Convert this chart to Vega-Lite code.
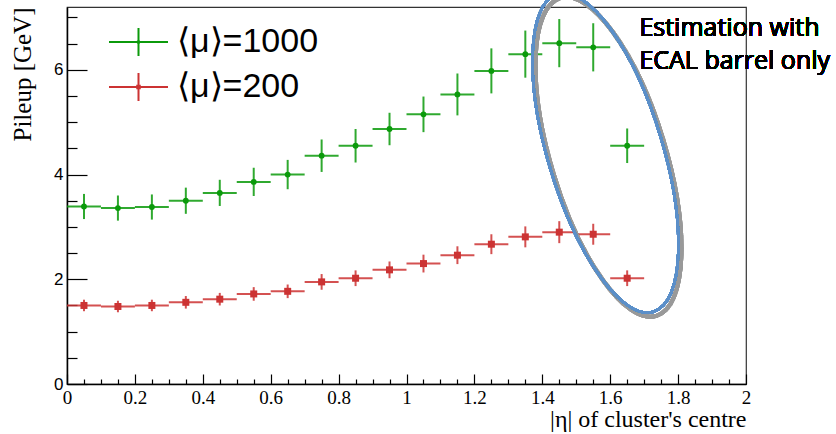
{
  "$schema": "https://vega.github.io/schema/vega-lite/v6.json",
  "autosize": {"type": "none"},
  "width": 679,
  "height": 377,
  "padding": {"left": 67, "top": 7, "right": 90, "bottom": 50},
  "background": "white",
  "config": {
    "view": {"stroke": "#333333", "strokeWidth": 1.2},
    "axis": {"grid": false, "domainColor": "black", "domainWidth": 1.5, "tickColor": "black", "tickWidth": 1.2, "labelColor": "black", "titleColor": "black"},
    "legend": {"orient": "none", "legendX": 54.5, "legendY": 18, "padding": 0, "titleFontSize": 0,
      "labelFont": "Liberation Sans", "labelFontSize": 34, "labelColor": "black", "labelOffset": 21.5, "labelLimit": 400, "rowPadding": 9,
      "symbolSize": 784, "symbolStrokeWidth": 2, "symbolOpacity": 1}
  },
  "data": {
    "values": [
      {"s": "⟨μ⟩=1000", "eta": 0.05, "lo": 0.0, "hi": 0.1, "v": 3.39, "vlo": 3.15, "vhi": 3.63},
      {"s": "⟨μ⟩=1000", "eta": 0.15, "lo": 0.1, "hi": 0.2, "v": 3.36, "vlo": 3.12, "vhi": 3.60},
      {"s": "⟨μ⟩=1000", "eta": 0.25, "lo": 0.2, "hi": 0.3, "v": 3.38, "vlo": 3.14, "vhi": 3.62},
      {"s": "⟨μ⟩=1000", "eta": 0.35, "lo": 0.3, "hi": 0.4, "v": 3.50, "vlo": 3.25, "vhi": 3.75},
      {"s": "⟨μ⟩=1000", "eta": 0.45, "lo": 0.4, "hi": 0.5, "v": 3.65, "vlo": 3.40, "vhi": 3.90},
      {"s": "⟨μ⟩=1000", "eta": 0.55, "lo": 0.5, "hi": 0.6, "v": 3.86, "vlo": 3.59, "vhi": 4.13},
      {"s": "⟨μ⟩=1000", "eta": 0.65, "lo": 0.6, "hi": 0.7, "v": 4.00, "vlo": 3.72, "vhi": 4.28},
      {"s": "⟨μ⟩=1000", "eta": 0.75, "lo": 0.7, "hi": 0.8, "v": 4.36, "vlo": 4.05, "vhi": 4.67},
      {"s": "⟨μ⟩=1000", "eta": 0.85, "lo": 0.8, "hi": 0.9, "v": 4.55, "vlo": 4.23, "vhi": 4.87},
      {"s": "⟨μ⟩=1000", "eta": 0.95, "lo": 0.9, "hi": 1.0, "v": 4.87, "vlo": 4.56, "vhi": 5.18},
      {"s": "⟨μ⟩=1000", "eta": 1.05, "lo": 1.0, "hi": 1.1, "v": 5.15, "vlo": 4.81, "vhi": 5.49},
      {"s": "⟨μ⟩=1000", "eta": 1.15, "lo": 1.1, "hi": 1.2, "v": 5.53, "vlo": 5.13, "vhi": 5.93},
      {"s": "⟨μ⟩=1000", "eta": 1.25, "lo": 1.2, "hi": 1.3, "v": 5.98, "vlo": 5.55, "vhi": 6.41},
      {"s": "⟨μ⟩=1000", "eta": 1.35, "lo": 1.3, "hi": 1.4, "v": 6.30, "vlo": 5.85, "vhi": 6.75},
      {"s": "⟨μ⟩=1000", "eta": 1.45, "lo": 1.4, "hi": 1.5, "v": 6.51, "vlo": 6.05, "vhi": 6.97},
      {"s": "⟨μ⟩=1000", "eta": 1.55, "lo": 1.5, "hi": 1.6, "v": 6.43, "vlo": 5.97, "vhi": 6.89},
      {"s": "⟨μ⟩=1000", "eta": 1.65, "lo": 1.6, "hi": 1.7, "v": 4.55, "vlo": 4.22, "vhi": 4.88},
      {"s": "⟨μ⟩=200", "eta": 0.05, "lo": 0.0, "hi": 0.1, "v": 1.50, "vlo": 1.39, "vhi": 1.61},
      {"s": "⟨μ⟩=200", "eta": 0.15, "lo": 0.1, "hi": 0.2, "v": 1.48, "vlo": 1.37, "vhi": 1.59},
      {"s": "⟨μ⟩=200", "eta": 0.25, "lo": 0.2, "hi": 0.3, "v": 1.50, "vlo": 1.39, "vhi": 1.61},
      {"s": "⟨μ⟩=200", "eta": 0.35, "lo": 0.3, "hi": 0.4, "v": 1.56, "vlo": 1.44, "vhi": 1.68},
      {"s": "⟨μ⟩=200", "eta": 0.45, "lo": 0.4, "hi": 0.5, "v": 1.62, "vlo": 1.50, "vhi": 1.74},
      {"s": "⟨μ⟩=200", "eta": 0.55, "lo": 0.5, "hi": 0.6, "v": 1.72, "vlo": 1.59, "vhi": 1.85},
      {"s": "⟨μ⟩=200", "eta": 0.65, "lo": 0.6, "hi": 0.7, "v": 1.77, "vlo": 1.64, "vhi": 1.90},
      {"s": "⟨μ⟩=200", "eta": 0.75, "lo": 0.7, "hi": 0.8, "v": 1.95, "vlo": 1.80, "vhi": 2.10},
      {"s": "⟨μ⟩=200", "eta": 0.85, "lo": 0.8, "hi": 0.9, "v": 2.02, "vlo": 1.87, "vhi": 2.17},
      {"s": "⟨μ⟩=200", "eta": 0.95, "lo": 0.9, "hi": 1.0, "v": 2.18, "vlo": 2.02, "vhi": 2.34},
      {"s": "⟨μ⟩=200", "eta": 1.05, "lo": 1.0, "hi": 1.1, "v": 2.30, "vlo": 2.13, "vhi": 2.47},
      {"s": "⟨μ⟩=200", "eta": 1.15, "lo": 1.1, "hi": 1.2, "v": 2.46, "vlo": 2.29, "vhi": 2.63},
      {"s": "⟨μ⟩=200", "eta": 1.25, "lo": 1.2, "hi": 1.3, "v": 2.67, "vlo": 2.48, "vhi": 2.86},
      {"s": "⟨μ⟩=200", "eta": 1.35, "lo": 1.3, "hi": 1.4, "v": 2.81, "vlo": 2.61, "vhi": 3.01},
      {"s": "⟨μ⟩=200", "eta": 1.45, "lo": 1.4, "hi": 1.5, "v": 2.90, "vlo": 2.69, "vhi": 3.11},
      {"s": "⟨μ⟩=200", "eta": 1.55, "lo": 1.5, "hi": 1.6, "v": 2.86, "vlo": 2.66, "vhi": 3.06},
      {"s": "⟨μ⟩=200", "eta": 1.65, "lo": 1.6, "hi": 1.7, "v": 2.02, "vlo": 1.87, "vhi": 2.17}
    ]
  },
  "resolve": {"axis": {"x": "independent", "y": "independent"}},
  "layer": [
    {
      "mark": {"type": "rule", "strokeWidth": 2, "opacity": 0.85},
      "encoding": {
        "x": {"field": "lo", "type": "quantitative", "scale": {"domain": [0, 2], "nice": false, "zero": false},
          "axis": {"orient": "bottom", "values": [0, 0.2, 0.4, 0.6, 0.8, 1, 1.2, 1.4, 1.6, 1.8, 2], "format": "~g", "tickSize": -10, "labelPadding": 14,
            "labelFont": "Liberation Serif", "labelFontSize": 19, "labelFlush": false, "labelOverlap": false,
            "title": "|η| of cluster's centre", "titleFont": "Liberation Serif", "titleFontSize": 24, "titleFontWeight": "normal",
            "titleAnchor": "end", "titleAlign": "right", "titleX": 679, "titleY": 42, "titleBaseline": "alphabetic"}},
        "x2": {"field": "hi"},
        "y": {"field": "v", "type": "quantitative", "scale": {"domain": [0, 7.2], "nice": false, "zero": true},
          "axis": {"orient": "left", "values": [0, 2, 4, 6], "tickSize": -20, "labelPadding": 24,
            "labelFont": "Liberation Sans", "labelFontSize": 17, "labelFlush": false, "labelOverlap": false,
            "title": "Pileup [GeV]", "titleFont": "Liberation Serif", "titleFontSize": 25, "titleFontWeight": "normal",
            "titleAnchor": "end", "titleAlign": "right", "titleAngle": -90, "titleX": -37, "titleY": 0, "titleBaseline": "alphabetic"}},
        "color": {"field": "s", "type": "nominal", "scale": {"domain": ["⟨μ⟩=1000", "⟨μ⟩=200"], "range": ["#0b9a0b", "#cc3333"]}}
      }
    },
    {
      "mark": {"type": "rule", "strokeWidth": 2, "opacity": 0.85},
      "encoding": {
        "x": {"field": "eta", "type": "quantitative",
          "axis": {"orient": "bottom", "values": [0.05, 0.1, 0.15, 0.25, 0.3, 0.35, 0.45, 0.5, 0.55, 0.65, 0.7, 0.75, 0.85, 0.9, 0.95, 1.05, 1.1, 1.15, 1.25, 1.3, 1.35, 1.45, 1.5, 1.55, 1.65, 1.7, 1.75, 1.85, 1.9, 1.95], "tickSize": -5, "labels": false, "domain": false, "title": null}},
        "y": {"field": "vlo", "type": "quantitative",
          "axis": {"orient": "left", "values": [0.5, 1, 1.5, 2.5, 3, 3.5, 4.5, 5, 5.5, 6.5, 7], "tickSize": -10, "labels": false, "domain": false, "title": null}},
        "y2": {"field": "vhi"},
        "color": {"field": "s", "type": "nominal"}
      }
    },
    {
      "mark": {"type": "point", "filled": true, "opacity": 1},
      "encoding": {
        "x": {"field": "eta", "type": "quantitative", "axis": null},
        "y": {"field": "v", "type": "quantitative", "axis": null},
        "color": {"field": "s", "type": "nominal"},
        "shape": {"condition": {"test": "datum.s === '⟨μ⟩=200'", "value": "square"}, "value": "circle"},
        "size": {"condition": {"test": "datum.s === '⟨μ⟩=200'", "value": 49}, "value": 34}
      }
    },
    {
      "mark": {"type": "point", "filled": false, "opacity": 1, "strokeWidth": 2},
      "encoding": {
        "x": {"field": "eta", "type": "quantitative", "axis": null},
        "y": {"field": "v", "type": "quantitative", "axis": null},
        "color": {"field": "s", "type": "nominal", "legend": {"title": null}},
        "shape": {"field": "s", "type": "nominal", "legend": {"title": null},
          "scale": {"domain": ["⟨μ⟩=1000", "⟨μ⟩=200"], "range": ["M-2.107,0H2.107M0,-1V1M-0.07,0A0.07,0.07,0,1,1,0.07,0A0.07,0.07,0,1,1,-0.07,0Z", "M-2.107,0H2.107M0,-1V1M-0.09,-0.09H0.09V0.09H-0.09Z"]}},
        "size": {"value": 0}
      }
    },
    {
      "mark": {"type": "point", "shape": "M0,-1A0.346,1,0,1,1,0,1A0.346,1,0,1,1,0,-1Z", "angle": 343.2, "size": 110224, "filled": false, "stroke": "#999999", "strokeWidth": 4, "opacity": 0.15, "xOffset": 3, "yOffset": 4},
      "encoding": {
        "x": {"datum": 1.586, "type": "quantitative", "axis": null},
        "y": {"datum": 4.414, "type": "quantitative", "axis": null}
      }
    },
    {
      "mark": {"type": "point", "shape": "M0,-1A0.346,1,0,1,1,0,1A0.346,1,0,1,1,0,-1Z", "angle": 343.2, "size": 110224, "filled": false, "stroke": "#5b8fc9", "strokeWidth": 2.5, "opacity": 1},
      "encoding": {
        "x": {"datum": 1.586, "type": "quantitative", "axis": null},
        "y": {"datum": 4.414, "type": "quantitative", "axis": null}
      }
    },
    {
      "mark": {"type": "text", "text": ["Estimation with", "ECAL barrel only"], "font": "Open Sans", "fontSize": 25, "fontWeight": 400, "align": "left", "baseline": "alphabetic", "lineHeight": 33, "color": "black"},
      "encoding": {
        "x": {"datum": 1.686, "type": "quantitative", "axis": null},
        "y": {"datum": 6.65, "type": "quantitative", "axis": null}
      }
    }
  ]
}
